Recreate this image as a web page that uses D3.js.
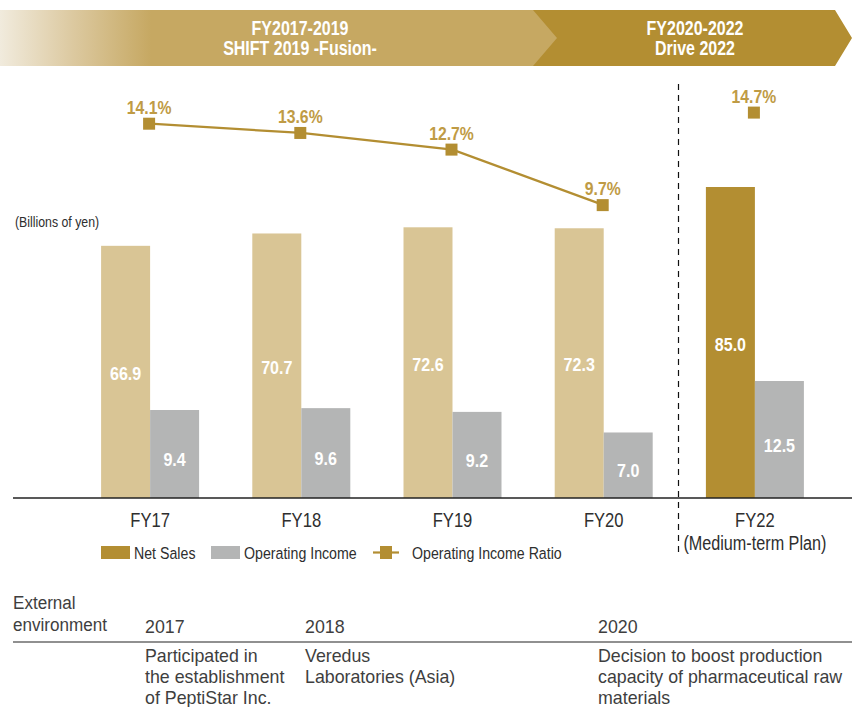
<!DOCTYPE html>
<html>
<head>
<meta charset="utf-8">
<script src="https://cdn.jsdelivr.net/npm/d3@7"></script>
<style>
  html, body { margin: 0; padding: 0; background: #fff; }
  svg { display: block; }
</style>
</head>
<body>
<svg id="chart" width="852" height="707"></svg>
<script>
// ---- data ----
const categories = ["FY17", "FY18", "FY19", "FY20", "FY22"];
const netSales = [66.9, 70.7, 72.6, 72.3, 85.0];
const operatingIncome = [9.4, 9.6, 9.2, 7.0, 12.5];
const incomeRatio = [14.1, 13.6, 12.7, 9.7, 14.7];
const planFlag = [false, false, false, false, true];
const periodTitles = [["FY2017-2019", "SHIFT 2019 -Fusion-"], ["FY2020-2022", "Drive 2022"]];
const legendLabels = ["Net Sales", "Operating Income", "Operating Income Ratio"];
const envYears = ["2017", "2018", "2020"];
const envEvents = [
  ["Participated in", "the establishment", "of PeptiStar Inc."],
  ["Veredus", "Laboratories (Asia)"],
  ["Decision to boost production", "capacity of pharmaceutical raw", "materials"]
];

const FONT = '"Liberation Sans", Arial, sans-serif';
const C = {
  gold: "#b38e32",
  goldText: "#bf9b45",
  sand: "#d9c595",
  gray: "#b4b5b5",
  text: "#2e2e2e",
  envText: "#3e3e3e"
};

const svg = d3.select("#chart");

// narrow type: regular glyphs squeezed horizontally around their anchor point
function place(sel, xf, yf, sx) {
  return sel.attr("transform", (d, i) => {
    const xv = typeof xf === "function" ? xf(d, i) : xf;
    const yv = typeof yf === "function" ? yf(d, i) : yf;
    return `translate(${xv},${yv}) scale(${sx},1)`;
  });
}

// ---- period header band ----
const defs = svg.append("defs");
const grad = defs.append("linearGradient").attr("id", "bandGrad")
  .attr("x1", 0).attr("x2", 1).attr("y1", 0).attr("y2", 0);
grad.append("stop").attr("offset", "0").attr("stop-color", "#f1ebdd");
grad.append("stop").attr("offset", "0.13").attr("stop-color", "#dcc9a0");
grad.append("stop").attr("offset", "0.27").attr("stop-color", "#c6a862");
grad.append("stop").attr("offset", "1").attr("stop-color", "#c6a862");

const bandTop = 10, bandBot = 66, bandMid = (bandTop + bandBot) / 2;
svg.append("rect").attr("x", 0).attr("y", bandTop).attr("width", 560).attr("height", bandBot - bandTop)
  .attr("fill", "url(#bandGrad)");
svg.append("path")
  .attr("d", d3.line()([[533, bandTop], [835, bandTop], [852, bandMid], [835, bandBot], [533, bandBot], [557, bandMid]]) + "Z")
  .attr("fill", C.gold);

const headerX = [300, 695];
periodTitles.forEach((lines, i) => {
  lines.forEach((s, j) => {
    place(svg.append("text"), headerX[i], 35 + j * 20, 0.82)
      .attr("text-anchor", "middle")
      .attr("font-family", FONT).attr("font-weight", "bold").attr("font-size", 19.5).attr("fill", "#fff")
      .text(s);
  });
});

// ---- scales ----
const baseY = 498;
const x = d3.scaleBand().domain(categories).range([74.5, 830.5]).paddingInner(0).paddingOuter(0);
const barW = 49;
const yNet = d3.scaleLinear().domain([-10.7, 85]).range([baseY, 187]);
const yInc = d3.scaleLinear().domain([0, 12.5]).range([baseY, 381]);
const yRatio = d3.scaleLinear().domain([0, 14.1]).range([384.6, 123.7]);
const cx = c => x(c) + x.bandwidth() / 2;

// ---- bars ----
const rows = categories.map((c, i) => ({ c, net: netSales[i], inc: operatingIncome[i], ratio: incomeRatio[i], plan: planFlag[i] }));

svg.append("g").selectAll("rect").data(rows).join("rect")
  .attr("x", d => cx(d.c) - barW).attr("width", barW)
  .attr("y", d => yNet(d.net)).attr("height", d => baseY - yNet(d.net))
  .attr("fill", d => d.plan ? C.gold : C.sand);

svg.append("g").selectAll("rect").data(rows).join("rect")
  .attr("x", d => cx(d.c)).attr("width", barW)
  .attr("y", d => yInc(d.inc)).attr("height", d => baseY - yInc(d.inc))
  .attr("fill", C.gray);

// bar value labels
place(svg.append("g").selectAll("text").data(rows).join("text"),
  d => cx(d.c) - barW / 2, d => (yNet(d.net) + baseY) / 2 + 8, 0.87)
  .attr("text-anchor", "middle")
  .attr("font-family", FONT).attr("font-weight", "bold").attr("font-size", 18.5).attr("fill", "#fff")
  .text(d => d.net.toFixed(1));

place(svg.append("g").selectAll("text").data(rows).join("text"),
  d => cx(d.c) + barW / 2, d => (yInc(d.inc) + baseY) / 2 + 12, 0.87)
  .attr("text-anchor", "middle")
  .attr("font-family", FONT).attr("font-weight", "bold").attr("font-size", 18.5).attr("fill", "#fff")
  .text(d => d.inc.toFixed(1));

// ---- baseline axis ----
const xAxis = d3.axisBottom(x).tickSize(0).tickPadding(0);
const axisG = svg.append("g").attr("transform", `translate(0,${baseY})`).call(xAxis);
axisG.select(".domain").remove();
axisG.selectAll(".tick text").remove();
svg.append("line").attr("x1", 13).attr("x2", 852).attr("y1", baseY).attr("y2", baseY)
  .attr("stroke", "#222").attr("stroke-width", 1.3);
place(axisG.selectAll(".tick").append("text"), 0, 29, 0.83)
  .attr("text-anchor", "middle")
  .attr("font-family", FONT).attr("font-size", 20).attr("fill", C.text)
  .text(d => d);
place(axisG.selectAll(".tick").filter(d => d === "FY22").append("text"), 0, 52, 0.81)
  .attr("text-anchor", "middle")
  .attr("font-family", FONT).attr("font-size", 20).attr("fill", C.text)
  .text("(Medium-term Plan)");

// dashed divider between actuals and plan
svg.append("line").attr("x1", 678.5).attr("x2", 678.5).attr("y1", 84).attr("y2", 553)
  .attr("stroke", "#111").attr("stroke-width", 1.2).attr("stroke-dasharray", "6,5");

// ---- operating income ratio line ----
const actual = rows.filter(d => !d.plan);
svg.append("path").datum(actual)
  .attr("d", d3.line().x(d => cx(d.c)).y(d => yRatio(d.ratio)))
  .attr("fill", "none").attr("stroke", C.gold).attr("stroke-width", 2.2);

const mk = 12;
svg.append("g").selectAll("rect").data(rows).join("rect")
  .attr("x", d => cx(d.c) - mk / 2 - 1).attr("y", d => yRatio(d.ratio) - mk / 2)
  .attr("width", mk).attr("height", mk).attr("fill", C.gold);

place(svg.append("g").selectAll("text").data(rows).join("text"),
  d => cx(d.c) - 1, d => yRatio(d.ratio) - 10, 0.83)
  .attr("text-anchor", "middle")
  .attr("font-family", FONT).attr("font-weight", "bold").attr("font-size", 19).attr("fill", C.goldText)
  .text(d => d.ratio.toFixed(1) + "%");

// unit note
place(svg.append("text"), 15, 227, 0.88)
  .attr("font-family", FONT).attr("font-size", 14).attr("fill", C.text)
  .text("(Billions of yen)");

// ---- legend ----
const lg = svg.append("g").attr("font-family", FONT).attr("font-size", 16.5).attr("fill", C.text);
lg.append("rect").attr("x", 101).attr("y", 546).attr("width", 29).attr("height", 13).attr("fill", C.gold);
place(lg.append("text"), 134, 558.5, 0.86).text(legendLabels[0]);
lg.append("rect").attr("x", 211).attr("y", 546).attr("width", 29).attr("height", 13).attr("fill", C.gray);
place(lg.append("text"), 244, 558.5, 0.86).text(legendLabels[1]);
lg.append("line").attr("x1", 373).attr("x2", 399).attr("y1", 552.5).attr("y2", 552.5)
  .attr("stroke", C.gold).attr("stroke-width", 2.2);
lg.append("rect").attr("x", 380).attr("y", 546).attr("width", 12).attr("height", 13).attr("fill", C.gold);
place(lg.append("text"), 412, 558.5, 0.86).text(legendLabels[2]);

// ---- external environment table ----
const env = svg.append("g").attr("font-family", FONT).attr("font-size", 17.8).attr("fill", C.envText);
place(env.append("text"), 13, 609, 0.96).text("External");
place(env.append("text"), 13, 631, 0.96).text("environment");
const envX = [145, 305, 598];
envYears.forEach((yr, i) => env.append("text").attr("x", envX[i]).attr("y", 633).text(yr));
svg.append("line").attr("x1", 13).attr("x2", 852).attr("y1", 642).attr("y2", 642)
  .attr("stroke", "#6b6b6b").attr("stroke-width", 1.3);
envEvents.forEach((lines, i) => {
  lines.forEach((s, j) => env.append("text").attr("x", envX[i]).attr("y", 662 + j * 21).text(s));
});
</script>
</body>
</html>
